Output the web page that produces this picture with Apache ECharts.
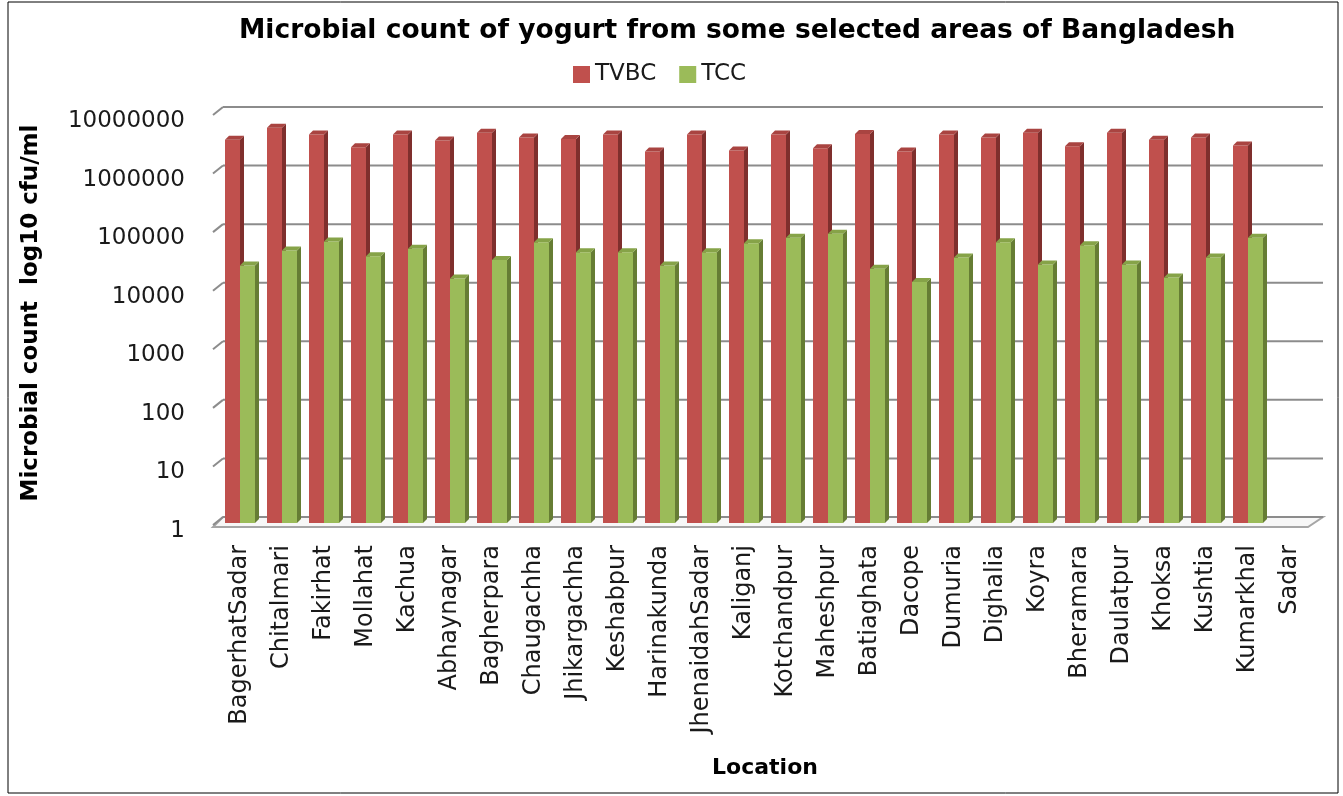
<!DOCTYPE html>
<html>
<head>
<meta charset="utf-8">
<title>Microbial count of yogurt</title>
<script src="https://cdn.jsdelivr.net/npm/echarts@6/dist/echarts.min.js"></script>
<style>
  html, body { margin: 0; padding: 0; background: #fff; }
  #chart { width: 1343px; height: 796px; }
</style>
</head>
<body>
<div id="chart"></div>
<script>
// data (log scale, so values are approximate)
const categories = ['BagerhatSadar', 'Chitalmari', 'Fakirhat', 'Mollahat', 'Kachua', 'Abhaynagar',
  'Bagherpara', 'Chaugachha', 'Jhikargachha', 'Keshabpur', 'Harinakunda', 'JhenaidahSadar',
  'Kaliganj', 'Kotchandpur', 'Maheshpur', 'Batiaghata', 'Dacope', 'Dumuria', 'Dighalia',
  'Koyra', 'Bheramara', 'Daulatpur', 'Khoksa', 'Kushtia', 'Kumarkhal', 'Sadar']
const tvbc = [3500000, 5600000, 4300000, 2600000, 4300000, 3400000, 4600000, 3800000, 3600000,
  4300000, 2200000, 4300000, 2300000, 4300000, 2500000, 4400000, 2200000, 4300000, 3800000,
  4600000, 2700000, 4600000, 3500000, 3800000, 2800000]
const tcc = [25000, 45000, 64000, 36000, 48000, 15000, 31000, 62000, 42000, 42000, 25000, 42000,
  60000, 74000, 87000, 22000, 13000, 34000, 62000, 26000, 55000, 26000, 15500, 34000, 74000]
const yTicks = [1, 10, 100, 1000, 10000, 100000, 1000000, 10000000]

const FONT = 'DejaVu Sans'
const chart = echarts.init(document.getElementById('chart'))

// 3d-ish column: front face, right side, top
function bar3d (colors, offset) {
  return function (params, api) {
    const i = api.value(0)
    const v = api.value(1)
    if (!(v > 0)) return null
    const top = api.coord([i, v])
    const base = api.coord([i, 1])
    const W = 15
    const D = 4
    const x0 = top[0] + offset
    return {
      type: 'group',
      children: [
        { type: 'rect', shape: { x: x0, y: top[1], width: W, height: base[1] - top[1] }, style: { fill: colors[0] } },
        { type: 'polygon', shape: { points: [[x0 + W, top[1]], [x0 + W + D, top[1] - D], [x0 + W + D, base[1] - D], [x0 + W, base[1]]] }, style: { fill: colors[1] } },
        { type: 'polygon', shape: { points: [[x0, top[1]], [x0 + D, top[1] - D], [x0 + W + D, top[1] - D], [x0 + W, top[1]]] }, style: { fill: colors[2] } }
      ]
    }
  }
}

// back wall gridlines + floor
function wall (params, api) {
  const v = api.value(1)
  const cs = params.coordSys
  const left = cs.x
  const right = cs.x + cs.width
  const fy = api.coord([0, v])[1]
  const y = fy - 6
  const children = []
  if (v === yTicks[0]) {
    children.push({
      type: 'polygon',
      shape: { points: [[left - 6, fy + 4], [right - 3, fy + 4], [right + 12, y], [left + 4, y]] },
      style: { fill: '#f7f7f7', stroke: '#a6a6a6', lineWidth: 2 }
    })
  }
  children.push({ type: 'line', shape: { x1: left - 6, y1: y + 8, x2: left + 4, y2: y }, style: { stroke: '#8c8c8c', lineWidth: 2 } })
  children.push({ type: 'line', shape: { x1: left + 4, y1: y, x2: right + 12, y2: y }, style: { stroke: '#8c8c8c', lineWidth: 2 } })
  return { type: 'group', children: children }
}

const option = {
  backgroundColor: '#fff',
  animation: false,
  textStyle: { fontFamily: FONT },
  title: {
    text: 'Microbial count of yogurt from some selected areas of Bangladesh',
    left: 234,
    top: 13,
    textStyle: { fontFamily: FONT, fontSize: 26.5, fontWeight: 'bold', color: '#000' }
  },
  legend: {
    data: ['TVBC', 'TCC'],
    left: 568,
    top: 58,
    icon: 'rect',
    itemWidth: 17,
    itemHeight: 17,
    itemGap: 23,
    textStyle: { fontFamily: FONT, fontSize: 23, color: '#1a1a1a' }
  },
  grid: [
    { left: 219, right: 32, top: 113, bottom: 273 },
    // label grid, the front tick labels sit a few px lower than the wall
    { left: 219, right: 32, top: 121, bottom: 265 }
  ],
  xAxis: [{
    type: 'category',
    data: categories,
    name: 'Location',
    nameLocation: 'middle',
    nameGap: 234,
    nameTextStyle: { fontFamily: FONT, fontSize: 22, fontWeight: 'bold', color: '#000' },
    axisLine: { show: false },
    axisTick: { show: false },
    axisLabel: { rotate: 90, interval: 0, margin: 22, fontFamily: FONT, fontSize: 24, color: '#1a1a1a' }
  }, {
    type: 'category',
    gridIndex: 1,
    data: categories,
    show: false
  }],
  yAxis: [{
    type: 'log',
    logBase: 10,
    min: 1,
    max: 10000000,
    splitNumber: 7,
    name: 'Microbial count  log10 cfu/ml',
    nameLocation: 'middle',
    nameRotate: 90,
    nameGap: 176,
    nameTextStyle: { fontFamily: FONT, fontSize: 23, fontWeight: 'bold', color: '#000', padding: [0, 0, 0, 10] },
    axisLine: { show: false },
    axisTick: { show: false },
    splitLine: { show: false },
    axisLabel: { show: false }
  }, {
    type: 'log',
    gridIndex: 1,
    logBase: 10,
    min: 1,
    max: 10000000,
    splitNumber: 7,
    axisLine: { show: false },
    axisTick: { show: false },
    splitLine: { show: false },
    axisLabel: {
      margin: 34,
      fontFamily: FONT,
      fontSize: 23,
      color: '#1a1a1a',
      formatter: function (v) { return String(Math.round(v)) }
    }
  }],
  graphic: [{
    type: 'rect',
    shape: { x: 8, y: 2, width: 1330, height: 791 },
    style: { fill: 'none', stroke: '#000', lineWidth: 1 },
    silent: true
  }],
  series: [
    {
      type: 'custom',
      name: 'wall',
      silent: true,
      z: 1,
      renderItem: wall,
      encode: { x: 0, y: 1 },
      data: yTicks.map(function (v) { return [0, v] })
    },
    {
      type: 'custom',
      name: 'TVBC',
      z: 2,
      itemStyle: { color: '#c0504d' },
      renderItem: bar3d(['#c0504d', '#7f2f2d', '#a94441'], -15),
      encode: { x: 0, y: 1 },
      data: tvbc.map(function (v, i) { return [i, v] })
    },
    {
      type: 'custom',
      name: 'TCC',
      z: 3,
      itemStyle: { color: '#9bbb59' },
      renderItem: bar3d(['#9bbb59', '#667d34', '#86a348'], 0),
      encode: { x: 0, y: 1 },
      data: tcc.map(function (v, i) { return [i, v] })
    }
  ]
}
chart.setOption(option)
</script>
</body>
</html>
